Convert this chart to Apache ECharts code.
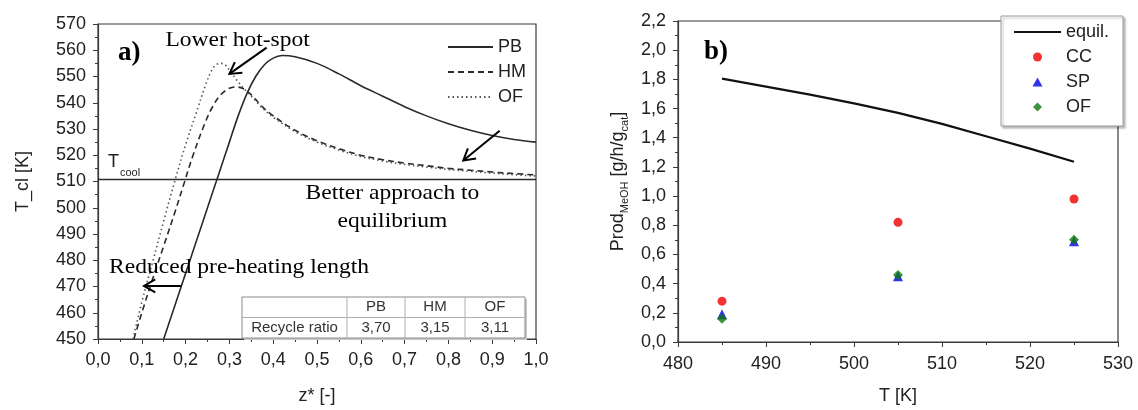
<!DOCTYPE html>
<html><head><meta charset="utf-8">
<script src="https://cdn.jsdelivr.net/npm/echarts@6/dist/echarts.min.js"></script>
<style>html,body{margin:0;padding:0;background:#fff}#c{width:1138px;height:410px}</style>
</head><body><div id="c"></div>
<script>
// ---------- Panel a) data : [z*, T_cl] ----------
const pbData = [[0.15,450],[0.175,462.5],[0.20,475],[0.225,487.5],[0.25,500],[0.275,512.5],[0.30,525],[0.32,535],[0.34,543.5],[0.36,550],[0.38,554.5],[0.40,557],[0.42,558],[0.45,557.5],[0.50,555],[0.55,551],[0.60,546.5],[0.65,542.5],[0.70,538.5],[0.75,535],[0.80,532],[0.85,529.5],[0.90,527.5],[0.95,526],[1.00,525]];
const hmData = [[0.082,450],[0.10,460],[0.125,473],[0.15,485.5],[0.175,498],[0.195,508.5],[0.215,519],[0.24,530.5],[0.26,538],[0.28,543],[0.30,545.5],[0.315,546],[0.33,545.5],[0.35,543],[0.375,538.5],[0.40,535],[0.45,529.5],[0.50,525.5],[0.55,522.5],[0.60,520],[0.65,518.3],[0.70,517],[0.75,516],[0.80,515],[0.85,514.3],[0.90,513.6],[0.95,513],[1.00,512.5]];
const ofData = [[0.08,450],[0.10,464],[0.125,479.5],[0.15,495],[0.175,510],[0.20,524],[0.225,536.5],[0.245,546.5],[0.26,552.5],[0.27,554.5],[0.28,555],[0.29,554.5],[0.30,552.5],[0.315,549],[0.33,546],[0.35,542.5],[0.375,538],[0.40,534.5],[0.45,529],[0.50,525],[0.55,522],[0.60,519.5],[0.65,517.8],[0.70,516.5],[0.75,515.5],[0.80,514.6],[0.85,513.9],[0.90,513.2],[0.95,512.6],[1.00,512.1]];
const tCool = 511;
const seriesNamesA = ['PB','HM','OF'];
// arrows in data coords [xFrom, yFrom, xTo, yTo]
const arrowsA = [[0.385,561,0.30,551],[0.917,529.3,0.834,518],[0.19,470.2,0.105,470.2]];
const tableHeaders = ['PB','HM','OF'];
const recycleRatio = ['3,70','3,15','3,11'];

// ---------- Panel b) data ----------
const equilT = [485,490,495,500,505,510,515,520,525];
const equilProd = [1.805,1.75,1.695,1.635,1.57,1.495,1.41,1.325,1.235];
const expT = [485,505,525];
const ccProd = [0.28,0.82,0.98];
const spProd = [0.19,0.45,0.69];
const ofProd = [0.16,0.46,0.70];
const seriesNamesB = ['equil.','CC','SP','OF'];

const SANS = '"Liberation Sans", Arial, sans-serif';
const SERIF = '"Liberation Serif", "Times New Roman", serif';
const AX = '#3a3a3a';
const comma1 = v => v.toFixed(1).replace('.', ',');
const NOFILL = {color:'rgba(0,0,0,0)', borderColor:'rgba(0,0,0,0)', borderWidth:0};
const ICON_CIRCLE = 'path://M5,0A5,5,0,1,1,4.99,0Z';
const ICON_TRI = 'path://M5,0L10,9L0,9Z';
const ICON_DIA = 'path://M5,0L10,5L5,10L0,5Z';
const iconsB = [null, ICON_CIRCLE, ICON_TRI, ICON_DIA];

const chart = echarts.init(document.getElementById('c'), null, {renderer:'canvas'});

function axisCommon(extra){
  return Object.assign({
    axisLine:{show:true, onZero:false, lineStyle:{color:AX, width:1.2}},
    axisTick:{show:true, inside:false, length:5, lineStyle:{color:AX, width:1}},
    minorTick:{show:true, splitNumber:2, length:3, lineStyle:{color:AX, width:1}},
    splitLine:{show:false},
    axisLabel:{color:'#222', fontSize:18, fontFamily:SANS},
    nameTextStyle:{color:'#222', fontSize:18, fontFamily:SANS}
  }, extra);
}

function arrowRender(params, api){
  const p1 = api.coord([api.value(0), api.value(1)]);
  const p2 = api.coord([api.value(2), api.value(3)]);
  const dx = p2[0]-p1[0], dy = p2[1]-p1[1];
  const L = Math.sqrt(dx*dx+dy*dy);
  const ux = dx/L, uy = dy/L, h = 13, a = Math.PI/6;
  const c = Math.cos(a), s = Math.sin(a);
  const h1 = [p2[0] - h*(ux*c - uy*s), p2[1] - h*(uy*c + ux*s)];
  const h2 = [p2[0] - h*(ux*c + uy*s), p2[1] - h*(uy*c - ux*s)];
  return {type:'group', children:[
    {type:'polyline', shape:{points:[p1,p2]}, style:{stroke:'#000', lineWidth:2, fill:null}},
    {type:'polyline', shape:{points:[h1,p2,h2]}, style:{stroke:'#000', lineWidth:2, fill:null}}
  ]};
}

const colX = [242,347,405,465,525];
const tableTop = 297, tableMid = 317.5, tableBot = 338;
const graphics = [];
// table
graphics.push({type:'rect', shape:{x:colX[0]+2, y:tableTop+2, width:colX[4]-colX[0], height:tableBot-tableTop}, style:{fill:'#c8c8c8'}, z:100});
graphics.push({type:'rect', shape:{x:colX[0], y:tableTop, width:colX[4]-colX[0], height:tableBot-tableTop}, style:{fill:'#fff', stroke:'#8a8a8a', lineWidth:1}, z:101});
graphics.push({type:'line', shape:{x1:colX[0], y1:tableMid, x2:colX[4], y2:tableMid}, style:{stroke:'#b0b0b0', lineWidth:1}, z:102});
for (let i=1;i<4;i++) graphics.push({type:'line', shape:{x1:colX[i], y1:tableTop, x2:colX[i], y2:tableBot}, style:{stroke:'#b0b0b0', lineWidth:1}, z:102});
tableHeaders.forEach((h,i)=>{
  graphics.push({type:'text', x:(colX[i+1]+colX[i+2])/2, y:(tableTop+tableMid)/2, z:103, style:{text:h, font:'15px '+SANS, fill:'#333', textAlign:'center', textVerticalAlign:'middle'}});
  graphics.push({type:'text', x:(colX[i+1]+colX[i+2])/2, y:(tableMid+tableBot)/2, z:103, style:{text:recycleRatio[i], font:'15px '+SANS, fill:'#333', textAlign:'center', textVerticalAlign:'middle'}});
});
graphics.push({type:'text', x:(colX[0]+colX[1])/2, y:(tableMid+tableBot)/2, z:103, style:{text:'Recycle ratio', font:'15px '+SANS, fill:'#333', textAlign:'center', textVerticalAlign:'middle'}});
// annotations panel a
function serifText(t, x, y, align){
  return {type:'text', x:x, y:y, scaleX:1.12, originX:x, originY:y, z:110,
    style:{text:t, font:'21px '+SERIF, fill:'#000', textAlign:align||'left', textVerticalAlign:'middle'}};
}
graphics.push({type:'text', x:118, y:53, z:110, style:{text:'a)', font:'bold 27px '+SERIF, fill:'#000', textVerticalAlign:'middle'}});
graphics.push(serifText('Lower hot-spot', 188, 40));
graphics.push(serifText('Better approach to', 446, 193, 'center'));
graphics.push(serifText('equilibrium', 446, 221, 'center'));
graphics.push(serifText('Reduced pre-heating length', 124, 267));
graphics.push({type:'text', x:108, y:162, z:110, style:{text:'T', font:'18px '+SANS, fill:'#222', textVerticalAlign:'middle'}});
graphics.push({type:'text', x:120, y:173, z:110, style:{text:'cool', font:'11px '+SANS, fill:'#222', textVerticalAlign:'middle'}});
// panel b
graphics.push({type:'text', x:704, y:52, z:110, style:{text:'b)', font:'bold 27px '+SERIF, fill:'#000', textVerticalAlign:'middle'}});

const option = {
  backgroundColor:'#fff',
  animation:false,
  graphic: graphics,
  grid:[
    {left:98, right:1138-536, top:24, bottom:410-345, show:true, borderColor:AX, borderWidth:1.2},
    {left:678, right:1138-1118, top:21, bottom:410-345, show:true, borderColor:AX, borderWidth:1.2}
  ],
  legend:[
    {data:seriesNamesA.map(n=>({name:n+'_a', itemStyle:NOFILL})), formatter:n=>n.replace(/_a$/,''), orient:'vertical', left:447, top:38, padding:0,
     itemWidth:45, itemHeight:10, itemGap:7, textStyle:{fontSize:18, lineHeight:18, fontFamily:SANS, color:'#222'}, selectedMode:false},
    {data:seriesNamesB.map((n,i)=> i===0 ? {name:n+'_b', itemStyle:NOFILL} : {name:n+'_b', icon:iconsB[i]}),
     formatter:n=>n.replace(/_b$/,''), orient:'vertical', left:1001, top:16, padding:[7,14,10,12], symbolKeepAspect:true,
     itemWidth:47, itemHeight:9, itemGap:7, textStyle:{fontSize:18, lineHeight:18, fontFamily:SANS, color:'#222'},
     backgroundColor:'#fff', borderColor:'#9a9a9a', borderWidth:1, shadowColor:'rgba(0,0,0,0.25)', shadowBlur:2, shadowOffsetX:2, shadowOffsetY:2, selectedMode:false}
  ],
  xAxis:[
    axisCommon({gridIndex:0, type:'value', min:0, max:1, interval:0.1, name:'z* [-]', nameLocation:'middle', nameGap:48,
      axisLabel:{color:'#222', fontSize:18, fontFamily:SANS, margin:12, formatter:comma1}}),
    axisCommon({gridIndex:1, type:'value', min:480, max:530, interval:10, name:'T [K]', nameLocation:'middle', nameGap:45,
      axisLabel:{color:'#222', fontSize:18, fontFamily:SANS, margin:13}})
  ],
  yAxis:[
    axisCommon({gridIndex:0, type:'value', min:450, max:570, interval:10, name:'T_cl [K]', nameLocation:'middle', nameGap:66,
      axisLabel:{color:'#222', fontSize:18, fontFamily:SANS, margin:12}}),
    axisCommon({gridIndex:1, type:'value', min:0, max:2.2, interval:0.2, nameLocation:'middle', nameGap:48,
      name:'{a|Prod}{s|MeOH}{a| [g/h/g}{s|cat}{a|]}',
      nameTextStyle:{color:'#222', fontFamily:SANS, rich:{a:{fontSize:18, fontFamily:SANS, color:'#222', lineHeight:24, verticalAlign:'middle'}, s:{fontSize:11, fontFamily:SANS, color:'#222', lineHeight:24, verticalAlign:'bottom'}}},
      axisLabel:{color:'#222', fontSize:18, fontFamily:SANS, margin:12, formatter:comma1}})
  ],
  series:[
    {name:'PB_a', type:'line', xAxisIndex:0, yAxisIndex:0, data:pbData, symbol:'none', smooth:0.35,
     lineStyle:{color:'#2a2a2a', width:1.6, type:'solid'}, itemStyle:{color:'#2a2a2a'},
     markLine:{silent:true, symbol:'none', label:{show:false}, lineStyle:{color:'#2a2a2a', width:1.3, type:'solid'}, data:[{yAxis:tCool}]}},
    {name:'HM_a', type:'line', xAxisIndex:0, yAxisIndex:0, data:hmData, symbol:'none', smooth:0.35,
     lineStyle:{color:'#2a2a2a', width:1.6, type:[6,4]}, itemStyle:{color:'#2a2a2a'}},
    {name:'OF_a', type:'line', xAxisIndex:0, yAxisIndex:0, data:ofData, symbol:'none', smooth:0.35,
     lineStyle:{color:'#555', width:1.6, type:[1.5,3]}, itemStyle:{color:'#555'}},
    {name:'arrows', type:'custom', xAxisIndex:0, yAxisIndex:0, data:arrowsA, renderItem:arrowRender, encode:{x:[0,2], y:[1,3]}, silent:true, z:20},
    {name:'equil._b', type:'line', xAxisIndex:1, yAxisIndex:1, data:equilT.map((t,i)=>[t,equilProd[i]]), symbol:'none',
     lineStyle:{color:'#111', width:2.2}, itemStyle:{color:'#111'}},
    {name:'CC_b', type:'scatter', xAxisIndex:1, yAxisIndex:1, data:expT.map((t,i)=>[t,ccProd[i]]), symbol:'circle', symbolSize:9, itemStyle:{color:'#f00000'}},
    {name:'SP_b', type:'scatter', xAxisIndex:1, yAxisIndex:1, data:expT.map((t,i)=>[t,spProd[i]]), symbol:'triangle', symbolSize:10, itemStyle:{color:'#0000e6'}},
    {name:'OF_b', type:'scatter', xAxisIndex:1, yAxisIndex:1, data:expT.map((t,i)=>[t,ofProd[i]]), symbol:'diamond', symbolSize:10, itemStyle:{color:'#0b7a0b'}}
  ]
};
chart.setOption(option);
</script></body></html>
